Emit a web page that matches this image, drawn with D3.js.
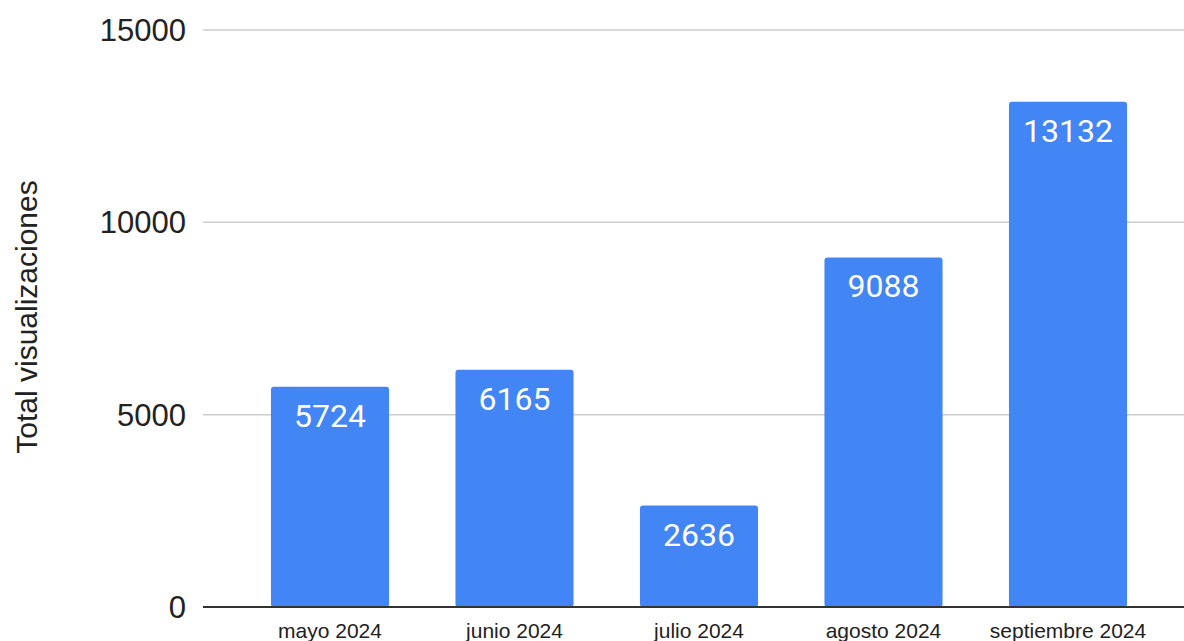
<!DOCTYPE html>
<html>
<head>
<meta charset="utf-8">
<script src="https://cdn.jsdelivr.net/npm/d3@7"></script>
<style>
  html, body { margin: 0; padding: 0; background: #fff; }
  svg { display: block; }
</style>
</head>
<body>
<svg id="vis"></svg>
<script>
// data
var months = ["mayo 2024", "junio 2024", "julio 2024", "agosto 2024", "septiembre 2024"];
var views = [5724, 6165, 2636, 9088, 13132];
var yTicks = [0, 5000, 10000, 15000];
var yTitle = "Total visualizaciones";

var width = 1184, height = 641;

var svg = d3.select("#vis")
    .attr("width", width)
    .attr("height", height);

// scales
var x = d3.scaleBand()
    .domain(months)
    .range([237.75, 1160.25])
    .paddingInner(0.36)
    .paddingOuter(0.18);

var y = d3.scaleLinear()
    .domain([0, 15000])
    .range([607, 30]);

// grid lines
svg.append("g").selectAll(".grid")
    .data(yTicks.slice(1))
    .enter().append("line")
    .attr("class", "grid")
    .attr("x1", 203)
    .attr("x2", width)
    .attr("y1", function(d) { return y(d); })
    .attr("y2", function(d) { return y(d); })
    .attr("stroke", "#cccccc")
    .attr("stroke-width", 1.5);

// y tick labels
svg.append("g").selectAll(".ytick")
    .data(yTicks)
    .enter().append("text")
    .attr("class", "ytick")
    .text(function(d) { return d; })
    .attr("x", 186)
    .attr("y", function(d) { return y(d); })
    .attr("dy", "0.36em")
    .attr("text-anchor", "end")
    .attr("font-family", "Liberation Sans, Arial, sans-serif")
    .attr("font-size", 31)
    .attr("fill", "#222");

// bars
svg.append("g").selectAll(".bar")
    .data(views)
    .enter().append("rect")
    .attr("class", "bar")
    .attr("x", function(d, i) { return x(months[i]); })
    .attr("y", function(d) { return y(d); })
    .attr("width", x.bandwidth())
    .attr("height", function(d) { return y(0) - y(d); })
    .attr("rx", 3)
    .attr("fill", "#4285f4");

// value labels
svg.append("g").selectAll(".val")
    .data(views)
    .enter().append("text")
    .attr("class", "val")
    .text(function(d) { return d; })
    .attr("x", function(d, i) { return x(months[i]) + x.bandwidth() / 2; })
    .attr("y", function(d) { return y(d) + 40; })
    .attr("text-anchor", "middle")
    .attr("font-family", "Roboto, sans-serif")
    .attr("font-size", 32)
    .attr("fill", "#ffffff");

// baseline
svg.append("line")
    .attr("x1", 203)
    .attr("x2", width)
    .attr("y1", y(0))
    .attr("y2", y(0))
    .attr("stroke", "#333")
    .attr("stroke-width", 2);

// x labels
svg.append("g").selectAll(".xlab")
    .data(months)
    .enter().append("text")
    .attr("class", "xlab")
    .text(function(d) { return d; })
    .attr("x", function(d) { return x(d) + x.bandwidth() / 2; })
    .attr("y", 638)
    .attr("text-anchor", "middle")
    .attr("font-family", "Liberation Sans, Arial, sans-serif")
    .attr("font-size", 21)
    .attr("fill", "#222");

// y axis title
svg.append("text")
    .text(yTitle)
    .attr("transform", "translate(37,317) rotate(-90)")
    .attr("text-anchor", "middle")
    .attr("font-family", "Liberation Sans, Arial, sans-serif")
    .attr("font-size", 30)
    .attr("fill", "#222");
</script>
</body>
</html>
